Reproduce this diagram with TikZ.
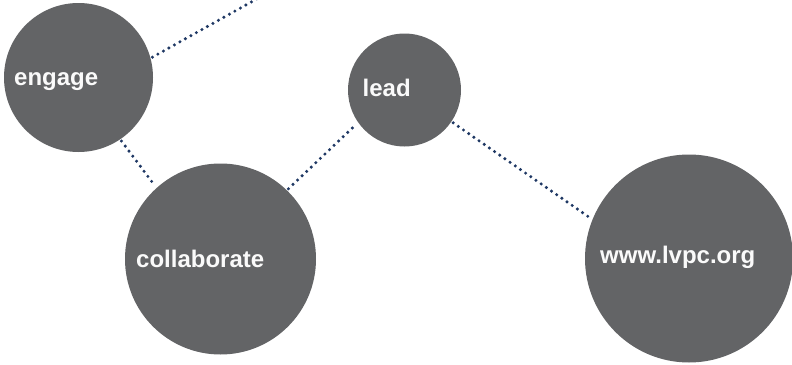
\documentclass[tikz,border=0pt]{standalone}
\usepackage{fontspec}
\setmainfont{Liberation Sans}
\definecolor{bubble}{RGB}{99,100,102}
\definecolor{dotc}{RGB}{31,56,100}
\definecolor{txt}{RGB}{250,250,250}
\tikzset{
  bubble/.style={circle, fill=bubble, draw=none, inner sep=0pt, minimum size=#1},
  lbl/.style={anchor=base west, text=txt, font=\fontsize{24}{28}\selectfont\bfseries, inner sep=0pt},
  link/.style={draw=dotc, line width=3.4pt, line cap=round, dash pattern=on 0pt off 6.3pt, shorten <=2pt, shorten >=2pt}
}
\begin{document}
\begin{tikzpicture}[x=1pt,y=-1pt]
\useasboundingbox (0,0) rectangle (792,364);
\clip (0,0) rectangle (792,364);
\node[bubble=149pt] (engage) at (78.5,77.5) {};
\node[bubble=191pt] (collab) at (220.5,259) {};
\node[bubble=113pt] (lead) at (404.5,90) {};
\node[bubble=208pt] (web) at (689,258.5) {};
\coordinate (top) at (262,-4);
\draw[link] (engage.15.6) -- (top);
\draw[link] (engage.-56.6) -- (collab.132.9);
\draw[link] (collab.46) -- (lead.-145.2);
\draw[link] (lead.-34.2) -- (web.158.75);
\node[lbl] (engage-t) at (14,85) {engage};
\node[lbl] (collab-t) at (136,267.5) {collaborate};
\node[lbl] (lead-t) at (362.5,96.5) {lead};
\node[lbl] (web-t) at (600,263) {www.lvpc.org};
\end{tikzpicture}
\end{document}
